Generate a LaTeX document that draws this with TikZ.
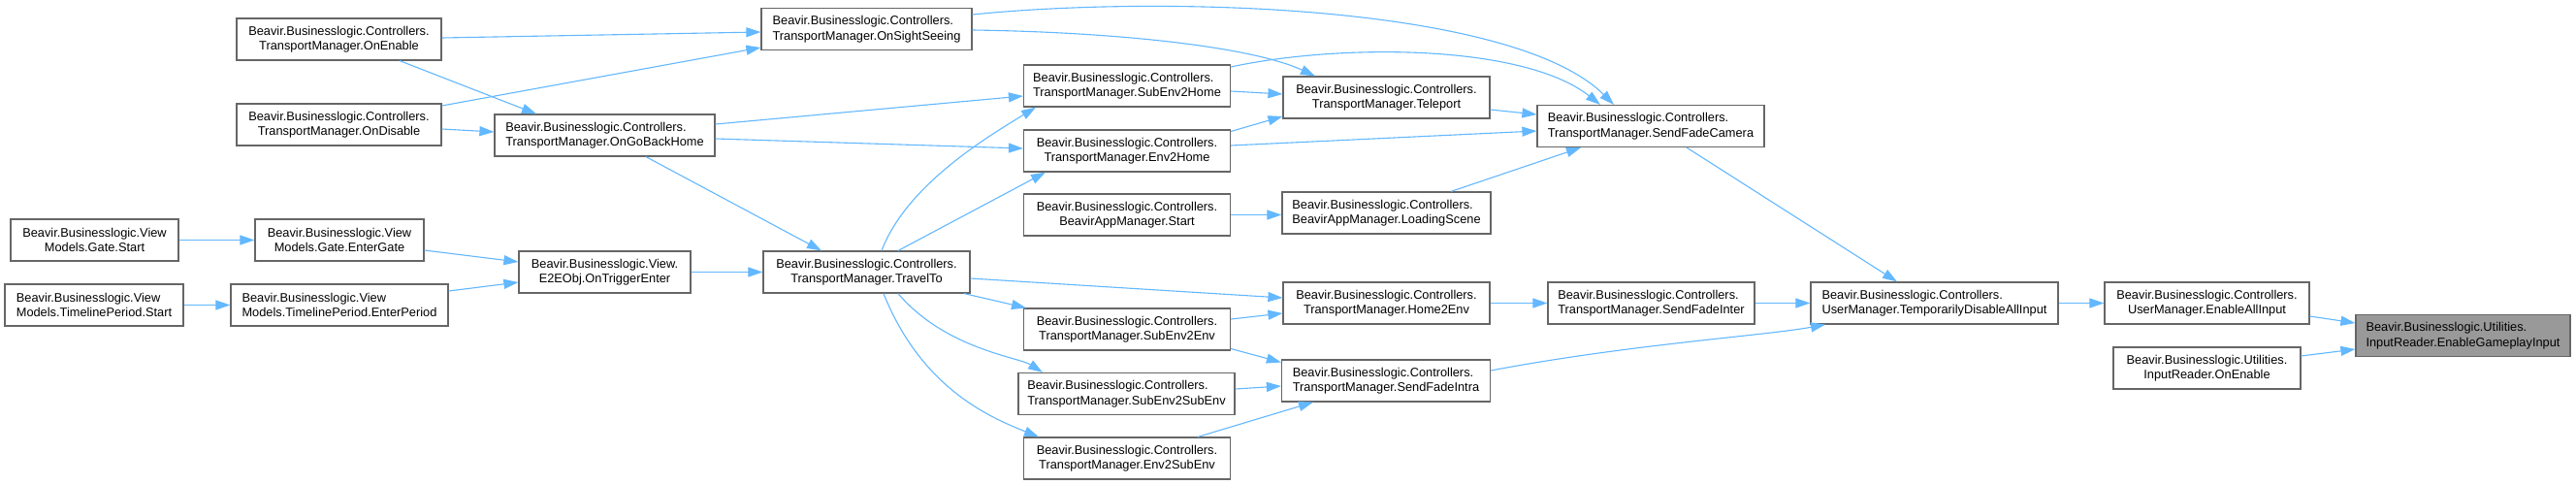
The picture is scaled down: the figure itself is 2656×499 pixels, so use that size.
\documentclass[tikz,border=0pt]{standalone}
\usepackage{fontspec}
\setmainfont{Liberation Sans}
\usetikzlibrary{arrows.meta}
\definecolor{edgeblue}{HTML}{63B8FF}
\definecolor{boxgray}{HTML}{666666}
\definecolor{hlgray}{HTML}{999999}
\newdimen\twlw
\newcommand\twl[2]{\setbox0=\hbox{#1}\setbox2=\hbox{#2}%
  \twlw=\wd0 \ifdim\wd2>\twlw \twlw=\wd2\fi
  \vbox{\hbox to\twlw{\box0\hfil}\hbox to\twlw{\hfil\box2\hfil}}}
\tikzset{
  box/.style={draw=boxgray, fill=white, line width=1.2pt, minimum height=43pt,
    inner xsep=6pt, inner ysep=0pt, font=\fontsize{12.8}{15.5}\selectfont},
  hlbox/.style={box, fill=hlgray},
  conn/.style={draw=edgeblue, line width=1.1pt, -{Triangle[length=15pt,width=10pt]}}
}
\begin{document}
\begin{tikzpicture}[x=1pt,y=-1pt]
\useasboundingbox (0,0) rectangle (2656,499);
\fill[white] (0,0) rectangle (2656,499);
% nodes
\node[box, minimum width=211pt] (onenable) at (349.5,40.5) {\twl{Beavir.Businesslogic.Controllers.}{TransportManager.OnEnable}};
\node[box, minimum width=211pt] (ondisable) at (349.5,128.5) {\twl{Beavir.Businesslogic.Controllers.}{TransportManager.OnDisable}};
\node[box, minimum width=227pt] (gobackhome) at (623.5,139.5) {\twl{Beavir.Businesslogic.Controllers.}{TransportManager.OnGoBackHome}};
\node[box, minimum width=173pt] (gatestart) at (97.5,247.5) {\twl{Beavir.Businesslogic.View}{Models.Gate.Start}};
\node[box, minimum width=174pt] (entergate) at (350,247.5) {\twl{Beavir.Businesslogic.View}{Models.Gate.EnterGate}};
\node[box, minimum width=177pt] (e2e) at (623.5,280.5) {\twl{Beavir.Businesslogic.View.}{E2EObj.OnTriggerEnter}};
\node[box, minimum width=184pt] (tlstart) at (97,314.5) {\twl{Beavir.Businesslogic.View}{Models.TimelinePeriod.Start}};
\node[box, minimum width=224pt] (enterperiod) at (350,314.5) {\twl{Beavir.Businesslogic.View}{Models.TimelinePeriod.EnterPeriod}};
\node[box, minimum width=213pt] (travelto) at (893.5,280.5) {\twl{Beavir.Businesslogic.Controllers.}{TransportManager.TravelTo}};
\node[box, minimum width=217pt] (sightseeing) at (893.5,30) {\twl{Beavir.Businesslogic.Controllers.}{TransportManager.OnSightSeeing}};
\node[box, minimum width=213pt] (sub2home) at (1162,88.5) {\twl{Beavir.Businesslogic.Controllers.}{TransportManager.SubEnv2Home}};
\node[box, minimum width=213pt] (env2home) at (1162,155.5) {\twl{Beavir.Businesslogic.Controllers.}{TransportManager.Env2Home}};
\node[box, minimum width=213pt] (bamstart) at (1162,221.5) {\twl{Beavir.Businesslogic.Controllers.}{BeavirAppManager.Start}};
\node[box, minimum width=213pt] (sub2env) at (1162,339.5) {\twl{Beavir.Businesslogic.Controllers.}{TransportManager.SubEnv2Env}};
\node[box, minimum width=223pt] (sub2sub) at (1161.5,406) {\twl{Beavir.Businesslogic.Controllers.}{TransportManager.SubEnv2SubEnv}};
\node[box, minimum width=213pt] (env2sub) at (1162,472.5) {\twl{Beavir.Businesslogic.Controllers.}{TransportManager.Env2SubEnv}};
\node[box, minimum width=213pt] (teleport) at (1429.5,100.5) {\twl{Beavir.Businesslogic.Controllers.}{TransportManager.Teleport}};
\node[box, minimum width=215pt] (loading) at (1429.5,219.5) {\twl{Beavir.Businesslogic.Controllers.}{BeavirAppManager.LoadingScene}};
\node[box, minimum width=213pt] (home2env) at (1429.5,312.5) {\twl{Beavir.Businesslogic.Controllers.}{TransportManager.Home2Env}};
\node[box, minimum width=215pt] (fadeintra) at (1429,392.5) {\twl{Beavir.Businesslogic.Controllers.}{TransportManager.SendFadeIntra}};
\node[box, minimum width=234pt] (fadecam) at (1702,130) {\twl{Beavir.Businesslogic.Controllers.}{TransportManager.SendFadeCamera}};
\node[box, minimum width=213pt] (fadeinter) at (1702.5,312.5) {\twl{Beavir.Businesslogic.Controllers.}{TransportManager.SendFadeInter}};
\node[box, minimum width=255pt] (tempdis) at (1994.5,312.5) {\twl{Beavir.Businesslogic.Controllers.}{UserManager.TemporarilyDisableAllInput}};
\node[box, minimum width=211pt] (enableall) at (2275.5,312.5) {\twl{Beavir.Businesslogic.Controllers.}{UserManager.EnableAllInput}};
\node[box, minimum width=193pt] (iroenable) at (2275.5,379.5) {\twl{Beavir.Businesslogic.Utilities.}{InputReader.OnEnable}};
\node[hlbox, minimum width=221pt] (gameplay) at (2539.5,346) {\twl{Beavir.Businesslogic.Utilities.}{InputReader.EnableGameplayInput}};
% connectors
\draw[conn] ([yshift=1.5pt]onenable.east) -- ([yshift=-3pt]sightseeing.west);
\draw[conn] ([xshift=62.5pt]onenable.south) -- ([xshift=-70.5pt]gobackhome.north);
\draw[conn] ([yshift=19.5pt]ondisable.east) -- ([yshift=-19pt]sightseeing.west);
\draw[conn] ([yshift=-4.5pt]ondisable.east) -- ([yshift=3.5pt]gobackhome.west);
\draw[conn] ([yshift=11.5pt]gobackhome.east) -- ([yshift=-10.5pt]sub2home.west);
\draw[conn] ([yshift=-3.5pt]gobackhome.east) -- ([yshift=2.5pt]env2home.west);
\draw[conn] ([xshift=42.5pt]gobackhome.south) -- ([xshift=-46.5pt]travelto.north);
\draw[conn] (gatestart) -- (entergate);
\draw[conn] ([yshift=-10.5pt]entergate.east) -- ([yshift=10.5pt]e2e.west);
\draw[conn] (tlstart) -- (enterperiod);
\draw[conn] ([yshift=14.5pt]enterperiod.east) -- ([yshift=-10.5pt]e2e.west);
\draw[conn] (e2e) -- (travelto);
\draw[conn] ([yshift=15pt]sightseeing.east) .. controls (1200,-5) and (1560,5) .. ([xshift=-38pt]fadecam.north);
\draw[conn] ([yshift=-1pt]sightseeing.east) .. controls (1150,33) and (1290,48) .. ([xshift=-73.5pt]teleport.north);
\draw[conn] ([yshift=-5.5pt]sub2home.east) -- ([yshift=3.5pt]teleport.west);
\draw[conn] ([yshift=19.5pt]sub2home.east) .. controls (1380,45) and (1570,45) .. ([xshift=-52pt]fadecam.north);
\draw[conn] ([yshift=20pt]env2home.east) -- ([yshift=-19.5pt]teleport.west);
\draw[conn] ([yshift=5.5pt]env2home.east) -- ([yshift=-5pt]fadecam.west);
\draw[conn] ([yshift=-12.5pt]teleport.east) -- ([yshift=12pt]fadecam.west);
\draw[conn] (bamstart.east) -- (bamstart.east -| loading.west);
\draw[conn] ([xshift=66.5pt]loading.north) -- ([xshift=-72pt]fadecam.south);
\draw[conn] ([xshift=37pt]fadecam.south) -- ([xshift=-38.5pt]tempdis.north);
\draw[conn] ([xshift=15.5pt]travelto.north) .. controls (935,190) and (1020,140) .. ([xshift=-94pt]sub2home.south);
\draw[conn] ([xshift=32.5pt]travelto.north) -- ([xshift=-84pt]env2home.south);
\draw[conn] ([yshift=-6.5pt]travelto.east) -- ([yshift=5.5pt]home2env.west);
\draw[conn] ([xshift=100.5pt]travelto.south) -- ([xshift=-104pt]sub2env.north);
\draw[conn] ([xshift=32.5pt]travelto.south) .. controls (975,360) and (1050,368) .. ([xshift=-86.5pt]sub2sub.north);
\draw[conn] ([xshift=17.5pt]travelto.south) .. controls (950,400) and (1020,430) .. ([xshift=-91pt]env2sub.north);
\draw[conn] ([yshift=10.5pt]sub2env.east) -- ([yshift=-10.5pt]home2env.west);
\draw[conn] ([yshift=-20pt]sub2env.east) -- ([yshift=19pt]fadeintra.west);
\draw[conn] ([yshift=5pt]sub2sub.east) -- ([yshift=-5.5pt]fadeintra.west);
\draw[conn] ([xshift=73pt]env2sub.north) -- ([xshift=-75pt]fadeintra.south);
\draw[conn] (home2env) -- (fadeinter);
\draw[conn] (fadeinter) -- (tempdis);
\draw[conn] ([yshift=10.5pt]fadeintra.east) .. controls (1680,355) and (1820,346) .. ([xshift=-112.5pt]tempdis.south);
\draw[conn] (tempdis) -- (enableall);
\draw[conn] ([yshift=-13.5pt]enableall.east) -- ([yshift=13pt]gameplay.west);
\draw[conn] ([yshift=12.5pt]iroenable.east) -- ([yshift=-14pt]gameplay.west);
\end{tikzpicture}
\end{document}
